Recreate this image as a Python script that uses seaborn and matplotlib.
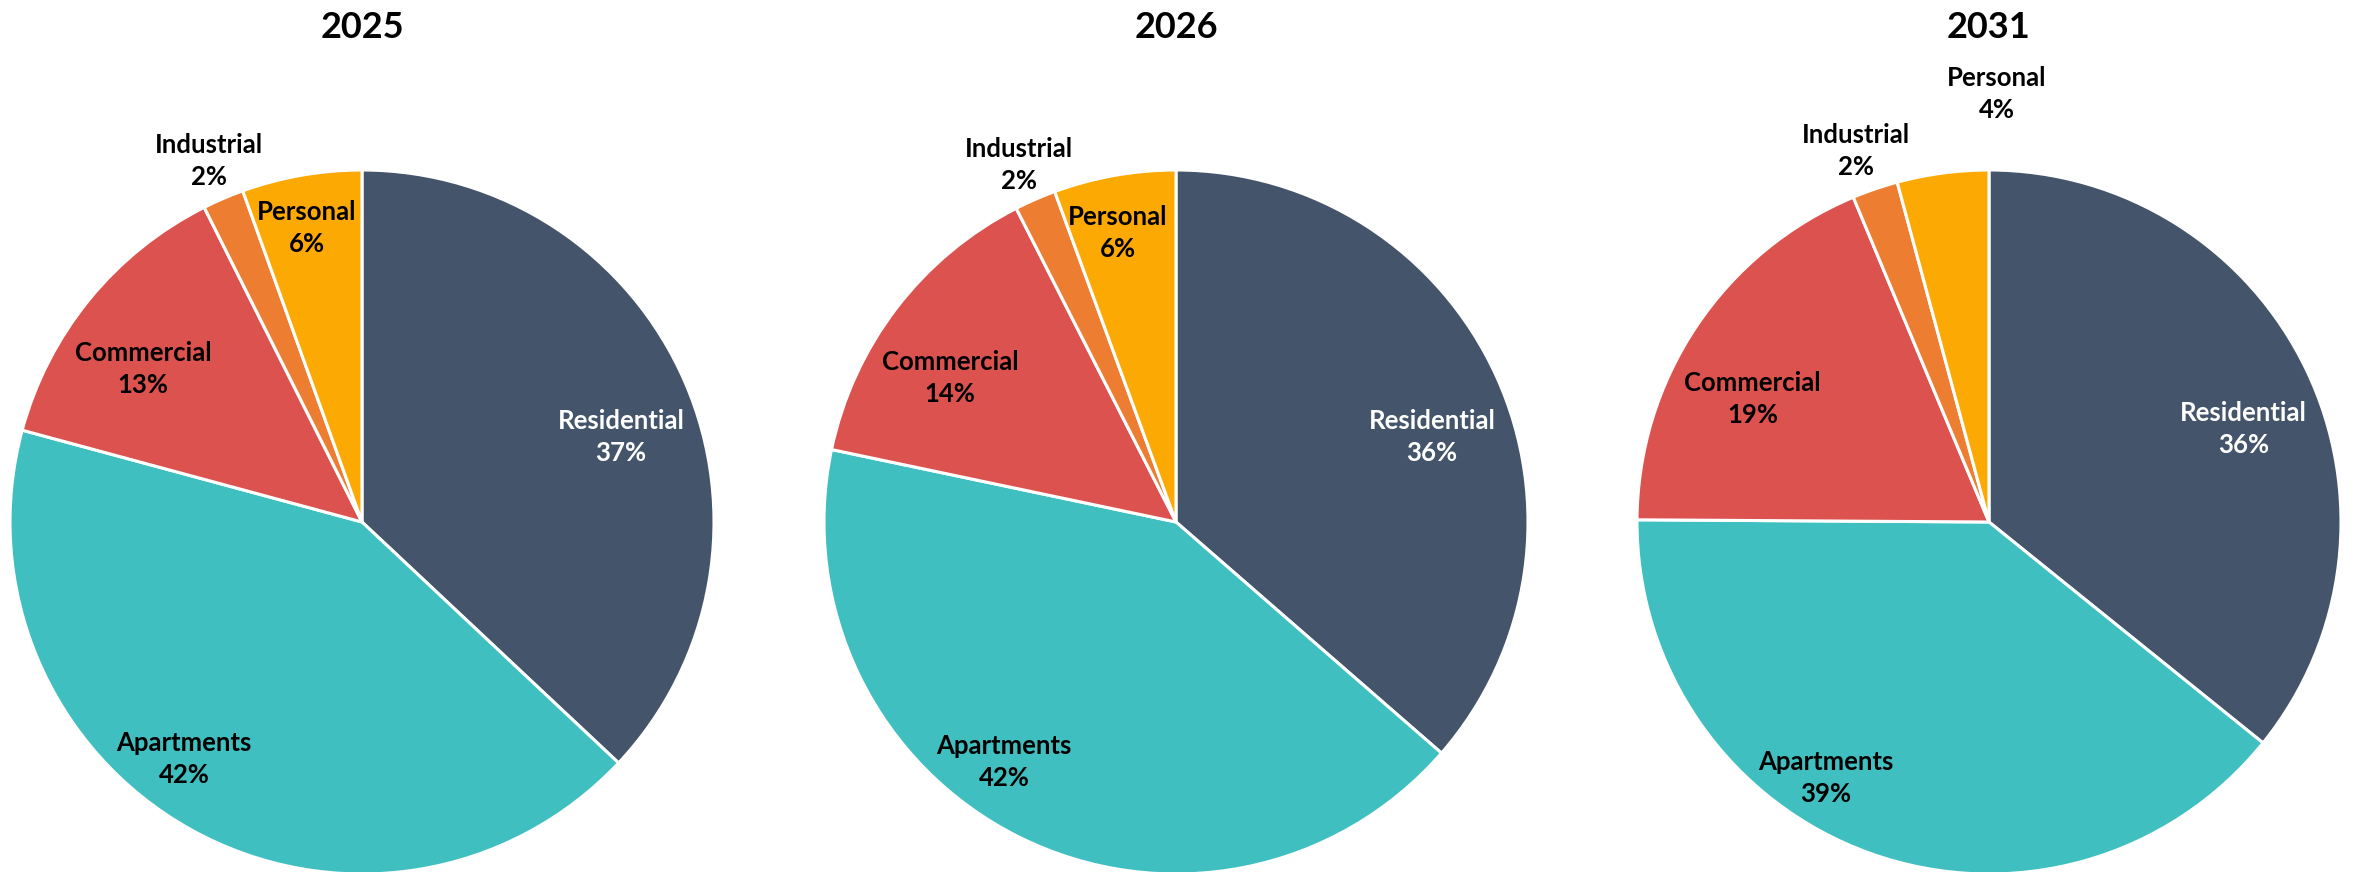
import matplotlib
matplotlib.use("Agg")
import matplotlib.pyplot as plt
import seaborn as sns
import numpy as np

# ---------------- data ----------------
years = ["2025", "2026", "2031"]
categories = ["Residential", "Apartments", "Commercial", "Industrial", "Personal"]
share_2025 = [37.0, 42.2, 13.4, 1.9, 5.5]
share_2026 = [36.4, 41.9, 14.2, 1.9, 5.6]
share_2031 = [35.8, 39.3, 18.6, 2.1, 4.2]
shares = [share_2025, share_2026, share_2031]

# ---------------- style ----------------
sns.set_theme(style="white")
plt.rcParams["font.family"] = ["Lato", "DejaVu Sans"]

colors = ["#44546A", "#40BFC1", "#DC524E", "#ED7D31", "#FCA904"]
text_colors = ["white", "black", "black", "black", "black"]

# label placement: (radius fraction, angle offset from wedge middle in degrees)
label_dist = [
    [0.775, 0.841, 0.758, 1.114, 0.849],
    [0.767, 0.838, 0.761, 1.107, 0.838],
    [0.770, 0.863, 0.757, 1.121, 1.217],
]
label_dang = [
    [-5.2, -7.8, 4.3, -0.3, 0.8],
    [-6.1, -9.2, 5.0, 0.2, 1.3],
    [-5.6, -12.9, 6.4, 0.8, -8.6],
]

W, H = 2354, 872
fig = plt.figure(figsize=(W / 100, H / 100), dpi=100)
fig.patch.set_facecolor("white")

centers_x = [362, 1176, 1989]
center_y = 522
R = 352

for i, (yr, vals) in enumerate(zip(years, shares)):
    cx = centers_x[i]
    ax = fig.add_axes([(cx - R) / W, (H - center_y - R) / H, 2 * R / W, 2 * R / H])
    wedges, _ = ax.pie(
        vals,
        colors=colors,
        startangle=90,
        counterclock=False,
        radius=1.0,
        wedgeprops=dict(edgecolor="white", linewidth=2.2),
    )
    ax.set_xlim(-1, 1)
    ax.set_ylim(-1, 1)
    ax.set_aspect("equal")
    ax.axis("off")
    for j, w in enumerate(wedges):
        mid = 0.5 * (w.theta1 + w.theta2) + label_dang[i][j]
        d = label_dist[i][j]
        x = d * np.cos(np.deg2rad(mid))
        y = d * np.sin(np.deg2rad(mid))
        ax.text(x, y, f"{categories[j]}\n{vals[j]:.0f}%", ha="center", va="center",
                fontsize=18.5, fontweight="bold", color=text_colors[j],
                linespacing=1.4, clip_on=False)
    fig.text(cx / W, 1 - 27 / H, yr, ha="center", va="center",
             fontsize=26, fontweight="bold", color="black")

fig.savefig("out.png", dpi=100, facecolor="white")
